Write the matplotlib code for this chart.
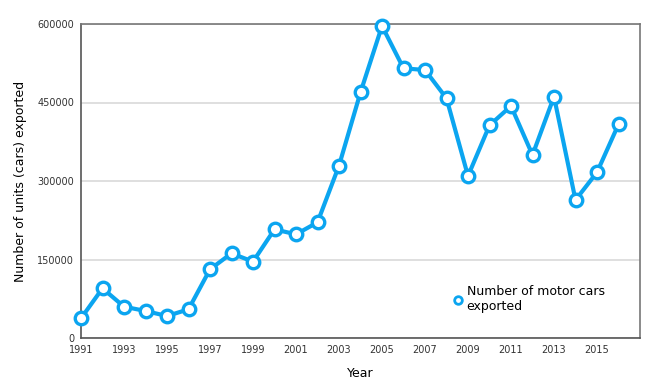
import numpy as np
import matplotlib.pyplot as plt

years = np.arange(1991, 2017)
cars = [37600, 94900, 59900, 51600, 42000, 54800, 131200, 161800, 145900,
        207600, 198100, 221000, 329300, 469400, 596200, 515300, 512100,
        458000, 309600, 406400, 443300, 349700, 461100, 263700, 316600, 408300]
xticks = np.arange(1991, 2016, 2)
yticks = [0, 150000, 300000, 450000, 600000]

blue = '#0ba5f0'

fig = plt.figure(figsize=(6.57, 3.86), dpi=100)
ax = fig.add_axes([81/657, 48/386, 559/657, 314/386])

ax.plot(years, cars, color=blue, lw=3, marker='o', ms=9,
        mfc='white', mec=blue, mew=2.4, zorder=3, clip_on=False)
ax.plot([], [], ls='none', marker='o', ms=5.5, mfc='white', mec=blue, mew=2,
        label='Number of motor cars\nexported')

ax.set_xlim(1991, 2017)
ax.set_ylim(0, 600000)
ax.set_xticks(xticks)
ax.set_yticks(yticks)
ax.tick_params(length=0, labelsize=7, colors='#333333', pad=5)
ax.grid(axis='y', color='#d9d9d9', lw=1.2)
ax.set_axisbelow(True)
for s in ['left', 'bottom']:
    ax.spines[s].set_color('#555555')
    ax.spines[s].set_linewidth(1.2)
for s in ['top', 'right']:
    ax.spines[s].set_color('#777777')
    ax.spines[s].set_linewidth(1.2)

ax.set_xlabel('Year', fontsize=9, labelpad=9)
ax.set_ylabel('Number of units (cars) exported', fontsize=9, labelpad=7)

ax.legend(loc='upper left', bbox_to_anchor=(0.652, 0.188), frameon=False,
          fontsize=9, handletextpad=0.2, handlelength=1.0, borderpad=0)

fig.savefig('out.png', dpi=100)
